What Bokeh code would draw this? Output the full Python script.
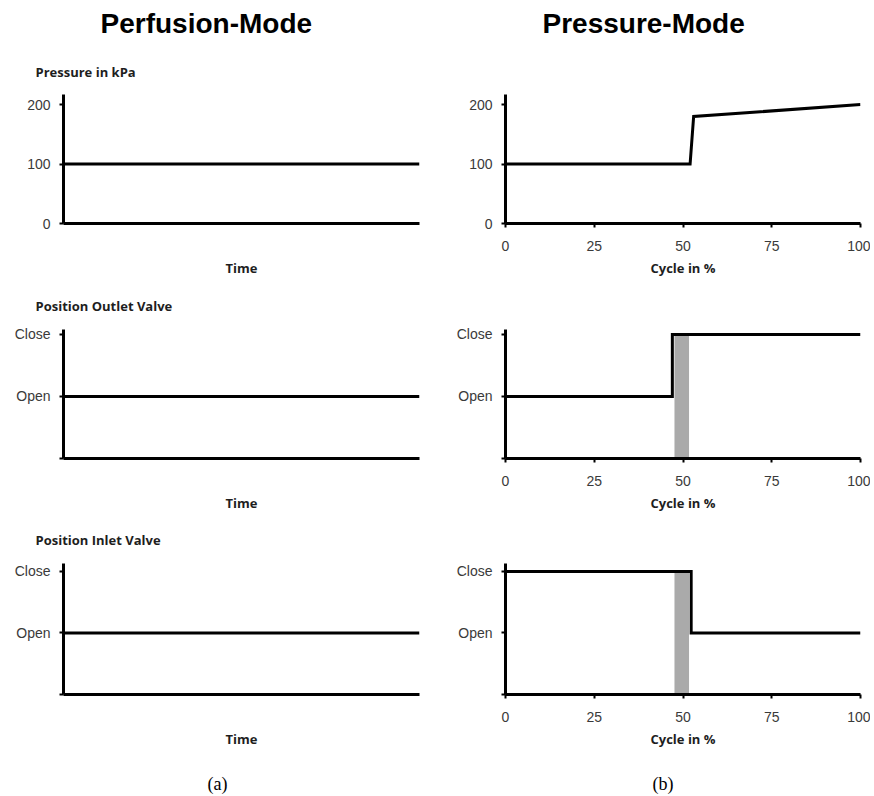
from bokeh.plotting import figure
from bokeh.layouts import column, row
from bokeh.models import Range1d, FixedTicker, Title
from bokeh.embed import file_html
from bokeh.resources import INLINE

# ---------------- data ----------------
mode_titles = ["Perfusion-Mode", "Pressure-Mode"]
row_titles = ["Pressure in kPa", "Position Outlet Valve", "Position Inlet Valve"]
panel_tags = ["(a)", "(b)"]
perf_x_label = "Time"
press_x_label = "Cycle in %"

# Perfusion mode (constant)
perf_time = [0, 100]
perf_pressure = [100, 100]
perf_outlet = [1, 1]
perf_inlet = [1, 1]

# Pressure mode
press_cycle_p = [0, 52, 53, 100]
press_pressure = [100, 100, 180, 200]
press_cycle_out = [0, 47, 47, 100]
press_outlet = [1, 1, 2, 2]
press_cycle_in = [0, 52.3, 52.3, 100]
press_inlet = [2, 2, 1, 1]
switch_start = [47.6]
switch_end = [51.7]
switch_low = [0]
switch_high = [2]

pressure_ticks = [0, 100, 200]
valve_ticks = [0, 1, 2]
valve_tick_labels = ["", "Open", "Close"]
cycle_ticks = [0, 25, 50, 75, 100]

# ---------------- layout geometry ----------------
COLS = [dict(width=437, bl=63, br=18), dict(width=433, bl=68, br=10)]
ROWS = [dict(h=233, bt=48, bb=56, yend=217, sub_so=28),
        dict(h=235, bt=50, bb=56, yend=2.08, sub_so=30),
        dict(h=236, bt=49, bb=56, yend=2.13, sub_so=29)]
HEADER_H = 46
FOOTER_H = 45

TICK_FONT = "Liberation Sans"
LABEL_FONT = "Open Sans"
INK = "#1e1e1e"
TICK_INK = "#3a3a3a"


def bare_figure(width, height, c, top=0, bottom=0):
    p = figure(width=width, height=height, output_backend="svg", toolbar_location=None,
               x_axis_location=None, y_axis_location=None,
               min_border_left=c["bl"], min_border_right=c["br"],
               min_border_top=top, min_border_bottom=bottom)
    p.outline_line_color = None
    p.grid.visible = False
    return p


def header(ci):
    c = COLS[ci]
    p = bare_figure(c["width"], HEADER_H, c)
    p.add_layout(Title(text=mode_titles[ci], align="left", offset=37,
                       text_font="Liberation Sans", text_font_style="bold",
                       text_font_size="28px", text_color="black",
                       standoff=10), "above")
    return p


def footer(ci):
    c = COLS[ci]
    p = bare_figure(c["width"], FOOTER_H, c, top=FOOTER_H - 1)
    p.add_layout(Title(text=panel_tags[ci], align="left",
                       offset=144 if ci == 0 else 147,
                       text_font="Liberation Serif", text_font_style="normal",
                       text_font_size="18px", text_color="black",
                       standoff=2), "above")
    return p


def panel(ci, ri):
    c, r = COLS[ci], ROWS[ri]
    p = figure(width=c["width"], height=r["h"],
               x_range=Range1d(0, 100), y_range=Range1d(0, r["yend"]),
               output_backend="svg", toolbar_location=None,
               min_border_left=c["bl"], min_border_right=c["br"],
               min_border_top=r["bt"], min_border_bottom=r["bb"])
    p.outline_line_color = None
    p.grid.visible = False

    # y axis
    ya = p.yaxis[0]
    ya.axis_line_width = 3
    ya.axis_line_color = "black"
    ya.major_tick_line_width = 2
    ya.major_tick_line_color = "black"
    ya.major_tick_out = 4
    ya.major_tick_in = 0
    ya.minor_tick_line_color = None
    ya.major_label_text_font = TICK_FONT
    ya.major_label_text_font_size = "14px"
    ya.major_label_text_color = TICK_INK
    ya.major_label_standoff = 9
    if ri == 0:
        ya.ticker = FixedTicker(ticks=pressure_ticks)
    else:
        ya.ticker = FixedTicker(ticks=valve_ticks)
        ya.major_label_overrides = {t: l for t, l in zip(valve_ticks, valve_tick_labels)}

    # x axis
    xa = p.xaxis[0]
    xa.axis_line_width = 3
    xa.axis_line_color = "black"
    xa.minor_tick_line_color = None
    xa.major_tick_line_width = 2
    xa.major_tick_line_color = "black"
    xa.major_tick_out = 4
    xa.major_tick_in = 0
    xa.major_label_text_font = TICK_FONT
    xa.major_label_text_font_size = "14px"
    xa.major_label_text_color = TICK_INK
    xa.major_label_standoff = 13
    xa.axis_label_text_font = LABEL_FONT
    xa.axis_label_text_font_style = "bold"
    xa.axis_label_text_font_size = "13px"
    xa.axis_label_text_color = INK
    if ci == 0:
        xa.ticker = FixedTicker(ticks=[])
        xa.axis_label = perf_x_label
        xa.axis_label_standoff = 35
    else:
        xa.ticker = FixedTicker(ticks=cycle_ticks)
        xa.axis_label = press_x_label
        xa.axis_label_standoff = 5

    # row sub titles (left column)
    if ci == 0:
        p.add_layout(Title(text=row_titles[ri], align="left", offset=-28,
                           text_font=LABEL_FONT, text_font_style="bold",
                           text_font_size="13px", text_color=INK,
                           standoff=r["sub_so"]), "above")
    return p


figs = [[panel(ci, ri) for ci in range(2)] for ri in range(3)]

# Perfusion-mode data
figs[0][0].line(perf_time, perf_pressure, line_width=3, color="black", line_join="miter")
figs[1][0].line(perf_time, perf_outlet, line_width=3, color="black", line_join="miter")
figs[2][0].line(perf_time, perf_inlet, line_width=3, color="black", line_join="miter")

# Pressure-mode data
figs[0][1].line(press_cycle_p, press_pressure, line_width=3, color="black", line_join="miter")
figs[1][1].quad(left=switch_start, right=switch_end, bottom=switch_low, top=switch_high,
                fill_color="#aaaaaa", line_color=None)
figs[1][1].line(press_cycle_out, press_outlet, line_width=3, color="black", line_join="miter")
figs[2][1].quad(left=switch_start, right=switch_end, bottom=switch_low, top=switch_high,
                fill_color="#aaaaaa", line_color=None)
figs[2][1].line(press_cycle_in, press_inlet, line_width=3, color="black", line_join="miter")

layout = column(
    row(header(0), header(1)),
    *[row(*r) for r in figs],
    row(footer(0), footer(1)),
)

open("out.html", "w").write(file_html(layout, INLINE))
